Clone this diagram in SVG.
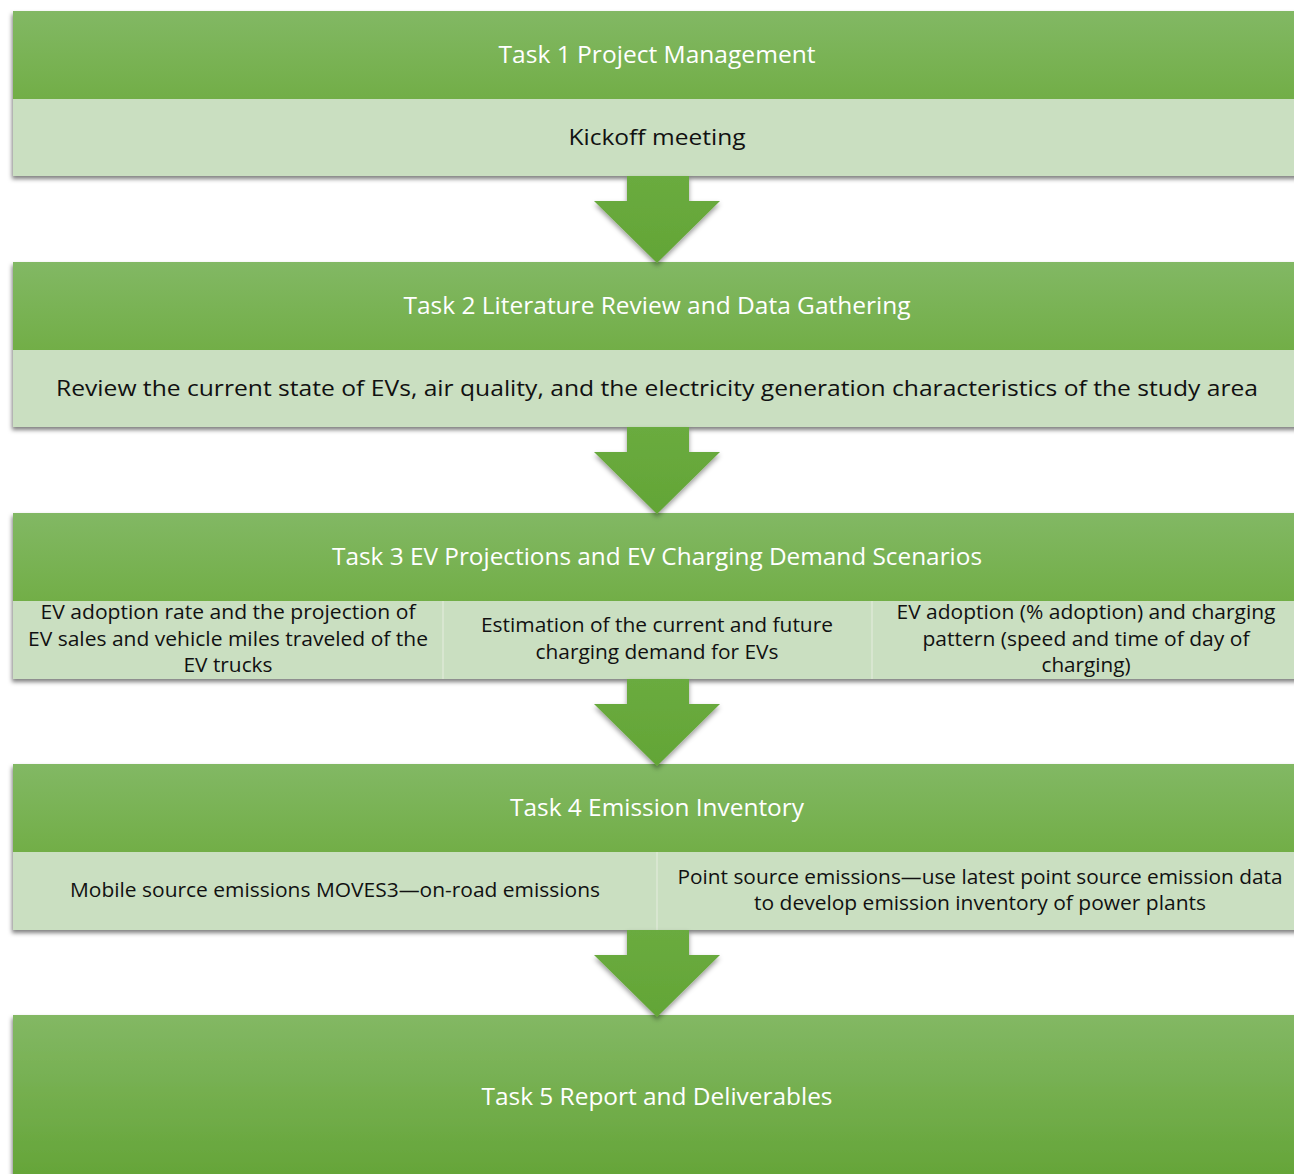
<svg xmlns="http://www.w3.org/2000/svg" width="1294" height="1174" viewBox="0 0 1294 1174">
<style>
.hdr{font-family:"Open Sans","Liberation Sans",sans-serif;font-size:24px;fill:#ffffff;text-anchor:middle}
.bd{font-family:"Open Sans","Liberation Sans",sans-serif;font-size:22px;fill:#111111;text-anchor:middle}
.sm{font-family:"Open Sans","Liberation Sans",sans-serif;font-size:20px;fill:#111111;text-anchor:middle}
.body{fill:#cadfc1}
.div{stroke:#dce9d5;stroke-width:1.5}
.arrow{fill:url(#ag)}
</style>
<defs>
<linearGradient id="hg" x1="0" y1="0" x2="0" y2="1">
<stop offset="0" stop-color="#82b864"/>
<stop offset="1" stop-color="#72ae47"/>
</linearGradient>
<linearGradient id="fg" x1="0" y1="0" x2="0" y2="1">
<stop offset="0" stop-color="#83b864"/>
<stop offset="1" stop-color="#62a334"/>
</linearGradient>
<linearGradient id="ag" x1="0" y1="0" x2="0" y2="1">
<stop offset="0" stop-color="#6aab3f"/>
<stop offset="1" stop-color="#63a536"/>
</linearGradient>
<filter id="sh" x="-5%" y="-10%" width="110%" height="130%">
<feDropShadow dx="-1" dy="3" stdDeviation="2.2" flood-color="#000" flood-opacity="0.5"/>
</filter>
<filter id="ash" x="-20%" y="-20%" width="140%" height="140%">
<feDropShadow dx="0" dy="3" stdDeviation="2.5" flood-color="#000" flood-opacity="0.4"/>
</filter>
</defs>
<rect width="1294" height="1174" fill="#ffffff"/>

<g id="task1">
<g filter="url(#sh)"><rect x="13" y="11" width="1288" height="165" class="body"/></g>
<rect x="13" y="11" width="1288" height="88" fill="url(#hg)"/>
<text class="hdr" x="657" y="63" textLength="317" lengthAdjust="spacingAndGlyphs">Task 1 Project Management</text>
<text class="bd" x="657" y="145" textLength="177" lengthAdjust="spacingAndGlyphs">Kickoff meeting</text>
</g>

<g id="task2">
<g filter="url(#sh)"><rect x="13" y="262" width="1288" height="165" class="body"/></g>
<rect x="13" y="262" width="1288" height="88" fill="url(#hg)"/>
<text class="hdr" x="657" y="314" textLength="507" lengthAdjust="spacingAndGlyphs">Task 2 Literature Review and Data Gathering</text>
<text class="bd" x="657" y="396" textLength="1202" lengthAdjust="spacingAndGlyphs">Review the current state of EVs, air quality, and the electricity generation characteristics of the study area</text>
</g>

<g id="task3">
<g filter="url(#sh)"><rect x="13" y="513" width="1288" height="166" class="body"/></g>
<rect x="13" y="513" width="1288" height="88" fill="url(#hg)"/>
<line class="div" x1="443" y1="601" x2="443" y2="679"/>
<line class="div" x1="872" y1="601" x2="872" y2="679"/>
<text class="hdr" x="657" y="565" textLength="650" lengthAdjust="spacingAndGlyphs">Task 3 EV Projections and EV Charging Demand Scenarios</text>
<text class="sm" x="228" y="619" textLength="375" lengthAdjust="spacingAndGlyphs">EV adoption rate and the projection of</text>
<text class="sm" x="228" y="646" textLength="400" lengthAdjust="spacingAndGlyphs">EV sales and vehicle miles traveled of the</text>
<text class="sm" x="228" y="672" textLength="89" lengthAdjust="spacingAndGlyphs">EV trucks</text>
<text class="sm" x="657" y="632" textLength="352" lengthAdjust="spacingAndGlyphs">Estimation of the current and future</text>
<text class="sm" x="657" y="659" textLength="243" lengthAdjust="spacingAndGlyphs">charging demand for EVs</text>
<text class="sm" x="1086" y="619" textLength="379" lengthAdjust="spacingAndGlyphs">EV adoption (% adoption) and charging</text>
<text class="sm" x="1086" y="646" textLength="327" lengthAdjust="spacingAndGlyphs">pattern (speed and time of day of</text>
<text class="sm" x="1086" y="672" textLength="89" lengthAdjust="spacingAndGlyphs">charging)</text>
</g>

<g id="task4">
<g filter="url(#sh)"><rect x="13" y="764" width="1288" height="166" class="body"/></g>
<rect x="13" y="764" width="1288" height="88" fill="url(#hg)"/>
<line class="div" x1="657" y1="852" x2="657" y2="930"/>
<text class="hdr" x="657" y="816" textLength="294" lengthAdjust="spacingAndGlyphs">Task 4 Emission Inventory</text>
<text class="sm" x="335" y="897" textLength="530" lengthAdjust="spacingAndGlyphs">Mobile source emissions MOVES3—on-road emissions</text>
<text class="sm" x="980" y="884" textLength="605" lengthAdjust="spacingAndGlyphs">Point source emissions—use latest point source emission data</text>
<text class="sm" x="980" y="910" textLength="452" lengthAdjust="spacingAndGlyphs">to develop emission inventory of power plants</text>
</g>

<g id="task5">
<g filter="url(#sh)"><rect x="13" y="1015" width="1288" height="175" fill="url(#fg)"/></g>
<text class="hdr" x="657" y="1105" textLength="351" lengthAdjust="spacingAndGlyphs">Task 5 Report and Deliverables</text>
</g>

<g id="connectors" filter="url(#ash)">
<path class="arrow" d="M627 176 H689 V201 H720 L657 263 L594 201 H627 Z"/>
<path class="arrow" d="M627 427 H689 V452 H720 L657 514 L594 452 H627 Z"/>
<path class="arrow" d="M627 679 H689 V704 H720 L657 766 L594 704 H627 Z"/>
<path class="arrow" d="M627 930 H689 V955 H720 L657 1017 L594 955 H627 Z"/>
</g>
</svg>
